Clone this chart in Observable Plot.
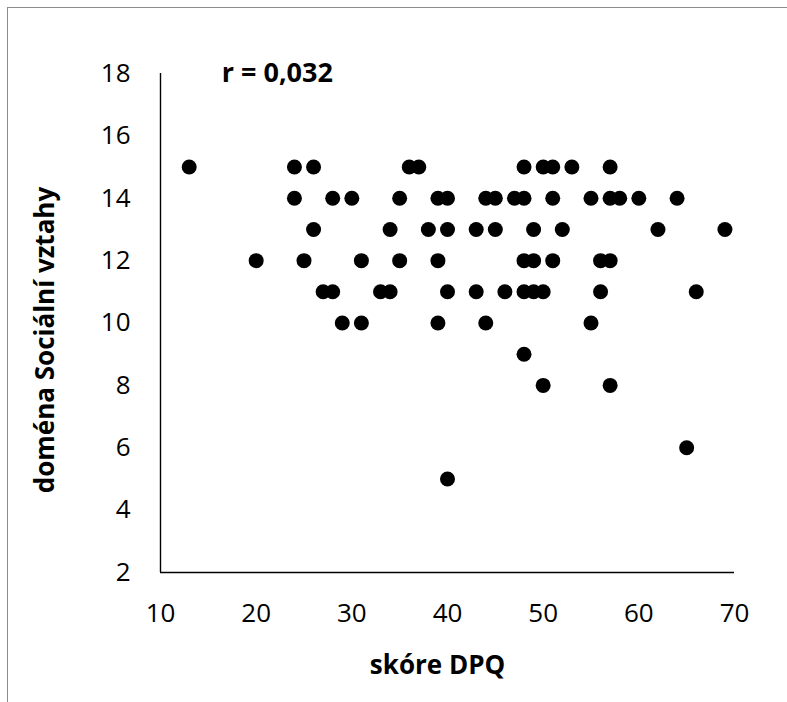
<!DOCTYPE html>
<html>
<head>
<meta charset="utf-8">
<script src="https://cdn.jsdelivr.net/npm/d3@7"></script>
<script src="https://cdn.jsdelivr.net/npm/@observablehq/plot@0.6"></script>
<style>
  html, body { margin: 0; padding: 0; background: #fff; overflow: hidden; }
  #wrap { position: relative; width: 787px; height: 702px; }
  #frame { position: absolute; left: 7px; top: 7px; width: 790px; height: 720px; border: 1.5px solid #8c8c8c; box-sizing: border-box; }
  #chart { position: absolute; left: 0; top: 0; }
</style>
</head>
<body>
<div id="wrap"><div id="frame"></div><div id="chart"></div></div>
<script>
// skóre DPQ (x) and doména Sociální vztahy (y)
const dpq = [
  13, 24, 26, 36, 37, 48, 50, 51, 53, 57,
  24, 28, 30, 35, 39, 40, 44, 45, 47, 48, 51, 55, 57, 58, 60, 64,
  26, 34, 38, 40, 43, 45, 49, 52, 62, 69,
  20, 25, 31, 35, 39, 48, 49, 51, 56, 57,
  27, 28, 33, 34, 40, 43, 46, 48, 49, 50, 56, 66,
  29, 31, 39, 44, 55,
  48, 50, 57, 65, 40
];
const social = [
  15, 15, 15, 15, 15, 15, 15, 15, 15, 15,
  14, 14, 14, 14, 14, 14, 14, 14, 14, 14, 14, 14, 14, 14, 14, 14,
  13, 13, 13, 13, 13, 13, 13, 13, 13, 13,
  12, 12, 12, 12, 12, 12, 12, 12, 12, 12,
  11, 11, 11, 11, 11, 11, 11, 11, 11, 11, 11, 11,
  10, 10, 10, 10, 10,
  9, 8, 8, 6, 5
];
const xTicks = [10, 20, 30, 40, 50, 60, 70];
const yTicks = [2, 4, 6, 8, 10, 12, 14, 16, 18];
const xTitle = "skóre DPQ";
const yTitle = "doména Sociální vztahy";
const rLabel = "r = 0,032";
const rLabelPos = {x: 16.4, y: 18};

const points = dpq.map((x, i) => ({x, y: social[i]}));
const font = "'Open Sans', Lato, sans-serif";

const chart = Plot.plot({
  width: 787,
  height: 702,
  marginLeft: 160,
  marginRight: 53,
  marginTop: 73,
  marginBottom: 130,
  style: {fontFamily: font, background: "transparent", color: "#000"},
  x: {domain: [10, 70]},
  y: {domain: [2, 18]},
  marks: [
    Plot.axisX({ticks: xTicks, tickSize: 0, tickPadding: 31, fontSize: 26, label: null, tickFormat: d => String(d)}),
    Plot.axisY({ticks: yTicks, tickSize: 0, tickPadding: 30, fontSize: 26, label: null, tickFormat: d => String(d)}),
    Plot.ruleX([10], {stroke: "#000", strokeWidth: 1.4}),
    Plot.ruleY([2], {stroke: "#000", strokeWidth: 1.4}),
    Plot.dot(points, {x: "x", y: "y", r: 7.5, fill: "#000", stroke: "none"}),
    Plot.text([rLabel], {x: rLabelPos.x, y: rLabelPos.y, text: d => d, textAnchor: "start", fontWeight: "bold", fontSize: 27, fill: "#000"}),
    Plot.text([xTitle], {frameAnchor: "bottom", text: d => d, dy: 101, dx: -10, fontWeight: "bold", fontSize: 26, fill: "#000"}),
    Plot.text([yTitle], {frameAnchor: "left", textAnchor: "middle", lineAnchor: "middle", text: d => d, rotate: -90, dx: -115, dy: 17, fontWeight: "bold", fontSize: 26, fill: "#000"})
  ]
});
document.getElementById("chart").appendChild(chart);
</script>
</body>
</html>
